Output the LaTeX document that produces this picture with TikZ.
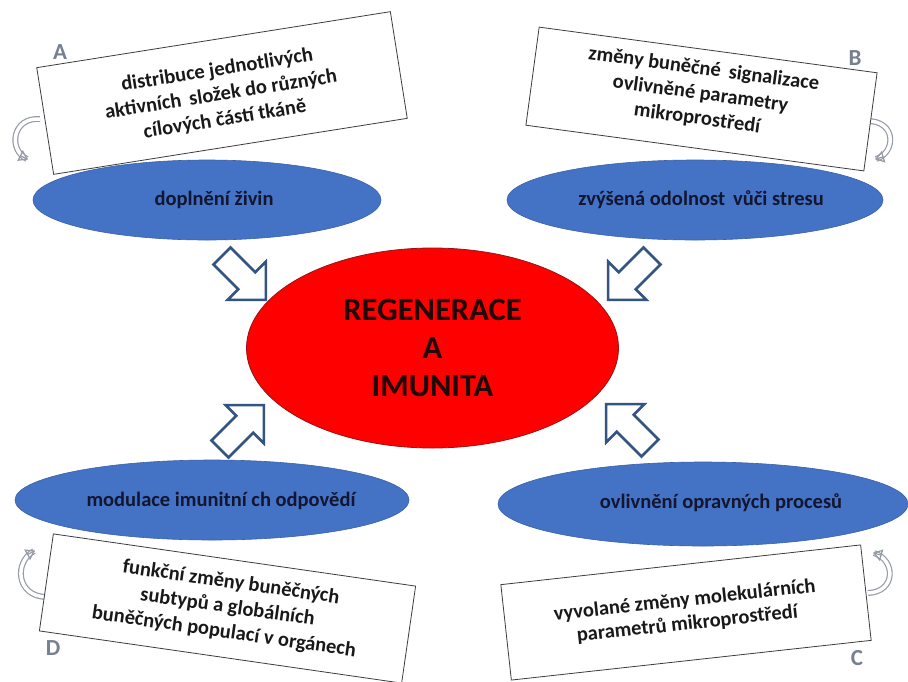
\documentclass[tikz,border=0pt]{standalone}
\usepackage{fontspec}
\setmainfont{Carlito}
\usetikzlibrary{arrows.meta,shapes.geometric}
\definecolor{blueell}{RGB}{68,114,196}
\definecolor{ellText}{RGB}{18,22,48}
\definecolor{arrBlue}{RGB}{52,84,130}
\definecolor{letterGray}{RGB}{118,128,142}
\definecolor{curveGray}{RGB}{150,155,165}
\definecolor{boxLine}{RGB}{60,60,60}
\definecolor{redLine}{RGB}{150,20,20}
\definecolor{redText}{RGB}{30,8,8}
\begin{document}
\begin{tikzpicture}[x=1pt,y=-1pt,
  centre/.style={ellipse, fill=red, draw=redLine, line width=0.8pt, minimum width=372pt, minimum height=200pt, inner sep=0pt, font=\fontsize{32.5}{38}\selectfont\bfseries, text=redText, align=center},
  effect/.style={ellipse, fill=blueell, draw=blueell!85!black, line width=0.6pt, inner sep=0pt},
  efftext/.style={font=\fontsize{20.5}{24}\selectfont\bfseries, text=ellText, inner sep=0pt},
  mechbox/.style={rectangle, fill=white, draw=boxLine, line width=0.8pt, inner sep=0pt},
  mechtext/.style={inner sep=0pt, align=center, font=\fontsize{20.5}{25}\selectfont\bfseries, text=black!90},
  letter/.style={font=\fontsize{23}{23}\selectfont\bfseries, text=letterGray, inner sep=0pt},
  blockarrow/.style={draw=arrBlue, line width=2.6pt, fill=white, line join=miter},
  curl/.style={draw=curveGray, line width=1.2pt, double=white, double distance=3.5pt},
  curltip/.style={draw=curveGray, line width=1.2pt, -{Triangle[open, length=9pt, width=12pt]}}
]
\useasboundingbox[fill=white] (0,0) rectangle (908,681);

% central ellipse
\node[centre] (core) at (432.5,348) {REGENERACE\\A\\IMUNITA};

% blue effect ellipses
\node[effect, minimum width=348pt, minimum height=80pt] (effA) at (207,200) {};
\node[efftext] (effAtext) at (214,200) {doplnění živin};
\node[effect, minimum width=376pt, minimum height=80pt] (effB) at (695,200) {};
\node[efftext] (effBtext) at (701,200) {zvýšená odolnost\, vůči stresu};
\node[effect, minimum width=394pt, minimum height=80pt] (effD) at (212,500) {};
\node[efftext] (effDtext) at (221,501) {modulace imunitní ch odpovědí};
\node[effect, minimum width=410pt, minimum height=84pt] (effC) at (703,504) {};
\node[efftext] (effCtext) at (721,503) {ovlivnění opravných procesů};

% block arrows towards the centre
\draw[blockarrow, shift={(222,256)}, rotate=-45] (0,-12) -- (35,-12) -- (35,-27) -- (62,0) -- (35,27) -- (35,12) -- (0,12) -- cycle;
\draw[blockarrow, shift={(652,256)}, rotate=-135] (0,-12) -- (35,-12) -- (35,-27) -- (62,0) -- (35,27) -- (35,12) -- (0,12) -- cycle;
\draw[blockarrow, shift={(220,449)}, rotate=45] (0,-12) -- (35,-12) -- (35,-27) -- (62,0) -- (35,27) -- (35,12) -- (0,12) -- cycle;
\draw[blockarrow, shift={(650,448)}, rotate=135] (0,-12) -- (35,-12) -- (35,-27) -- (62,0) -- (35,27) -- (35,12) -- (0,12) -- cycle;

% curved arrows
\draw[curl] (40,119) .. controls (12,117) and (8,150) .. (27,159);
\draw[curltip] (27,159) -- (28,159.5);
\draw[curl] (866,121) .. controls (897,120) and (896,153) .. (876,159);
\draw[curltip] (876,159) -- (875,159.3);
\draw[curl] (46,597) .. controls (16,596) and (14,562) .. (34,551);
\draw[curltip] (34,551) -- (35,550.45);
\draw[curl] (868,593) .. controls (896,592) and (896,560) .. (874,553);
\draw[curltip] (874,553) -- (873,552.7);

% mechanism boxes
\node[mechbox, minimum width=358pt, minimum height=108pt, rotate=9] (boxA) at (222,93) {};
\node[mechtext, rotate=9] (boxAtext) at (221,95)
  {distribuce jednotlivých\\aktivních\, složek do různých\\cílových částí tkáně};
\node[mechbox, minimum width=341pt, minimum height=99pt, rotate=-7.7] (boxB) at (701.5,99) {};
\node[mechtext, rotate=-7.7] (boxBtext) at (700.5,94)
  {změny buněčné\, signalizace\\ovlivněné parametry\\mikroprostředí};
\node[mechbox, minimum width=362pt, minimum height=96pt, rotate=6.3] (boxC) at (686,612.5) {};
\node[mechtext, rotate=6.3, font=\fontsize{20.5}{23.5}\selectfont\bfseries] (boxCtext) at (686,612.5)
  {vyvolané změny molekulárních\\parametrů mikroprostředí};
\node[mechbox, minimum width=366pt, minimum height=98pt, rotate=-8.2] (boxD) at (227.5,608.5) {};
\node[mechtext, rotate=-8.2] (boxDtext) at (227.5,607.5)
  {funkční změny buněčných\\subtypů a globálních\\buněčných populací v orgánech};

% letters
\node[letter] (labA) at (60,52) {A};
\node[letter] (labB) at (855,58) {B};
\node[letter] (labC) at (857,658) {C};
\node[letter] (labD) at (53,648) {D};
\end{tikzpicture}
\end{document}
